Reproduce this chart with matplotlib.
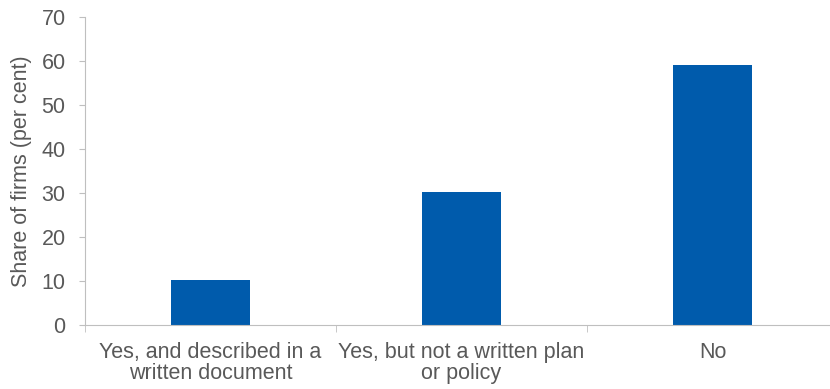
import matplotlib.pyplot as plt
import numpy as np

categories = ["Yes, and described in a\nwritten document",
              "Yes, but not a written plan\nor policy",
              "No"]
shares = [10.2, 30.3, 59.2]

plt.rcParams['font.family'] = ['Liberation Sans', 'DejaVu Sans']

text_col = '#595959'
axis_col = '#BFBFBF'

fig = plt.figure(figsize=(8.3, 3.89), dpi=100)
# axes run slightly past the right edge, as in the original
ax = fig.add_axes([0.1024, 0.1645, 0.9072, 0.7915])

x = np.arange(len(categories))
ax.bar(x, shares, width=0.315, color='#005BAC')

ax.set_xlim(-0.5, len(categories) - 0.5)
ax.set_ylim(0, 70)
ax.set_yticks(range(0, 71, 10))
ax.set_xticks(x)
ax.set_xticklabels(categories, linespacing=1.05)
ax.set_xticks(np.arange(-0.5, len(categories), 1), minor=True)

ax.tick_params(axis='x', which='major', length=0, pad=12, labelsize=15.5, labelcolor=text_col)
ax.tick_params(axis='x', which='minor', length=5, color=axis_col, direction='out')
ax.tick_params(axis='y', length=4, color=axis_col, labelsize=15.5, labelcolor=text_col, pad=10)

ax.set_ylabel('Share of firms (per cent)', fontsize=15.5, color=text_col, labelpad=7)

for s in ['top', 'right']:
    ax.spines[s].set_visible(False)
for s in ['left', 'bottom']:
    ax.spines[s].set_color(axis_col)

fig.savefig('out.png', dpi=100)
plt.close()
